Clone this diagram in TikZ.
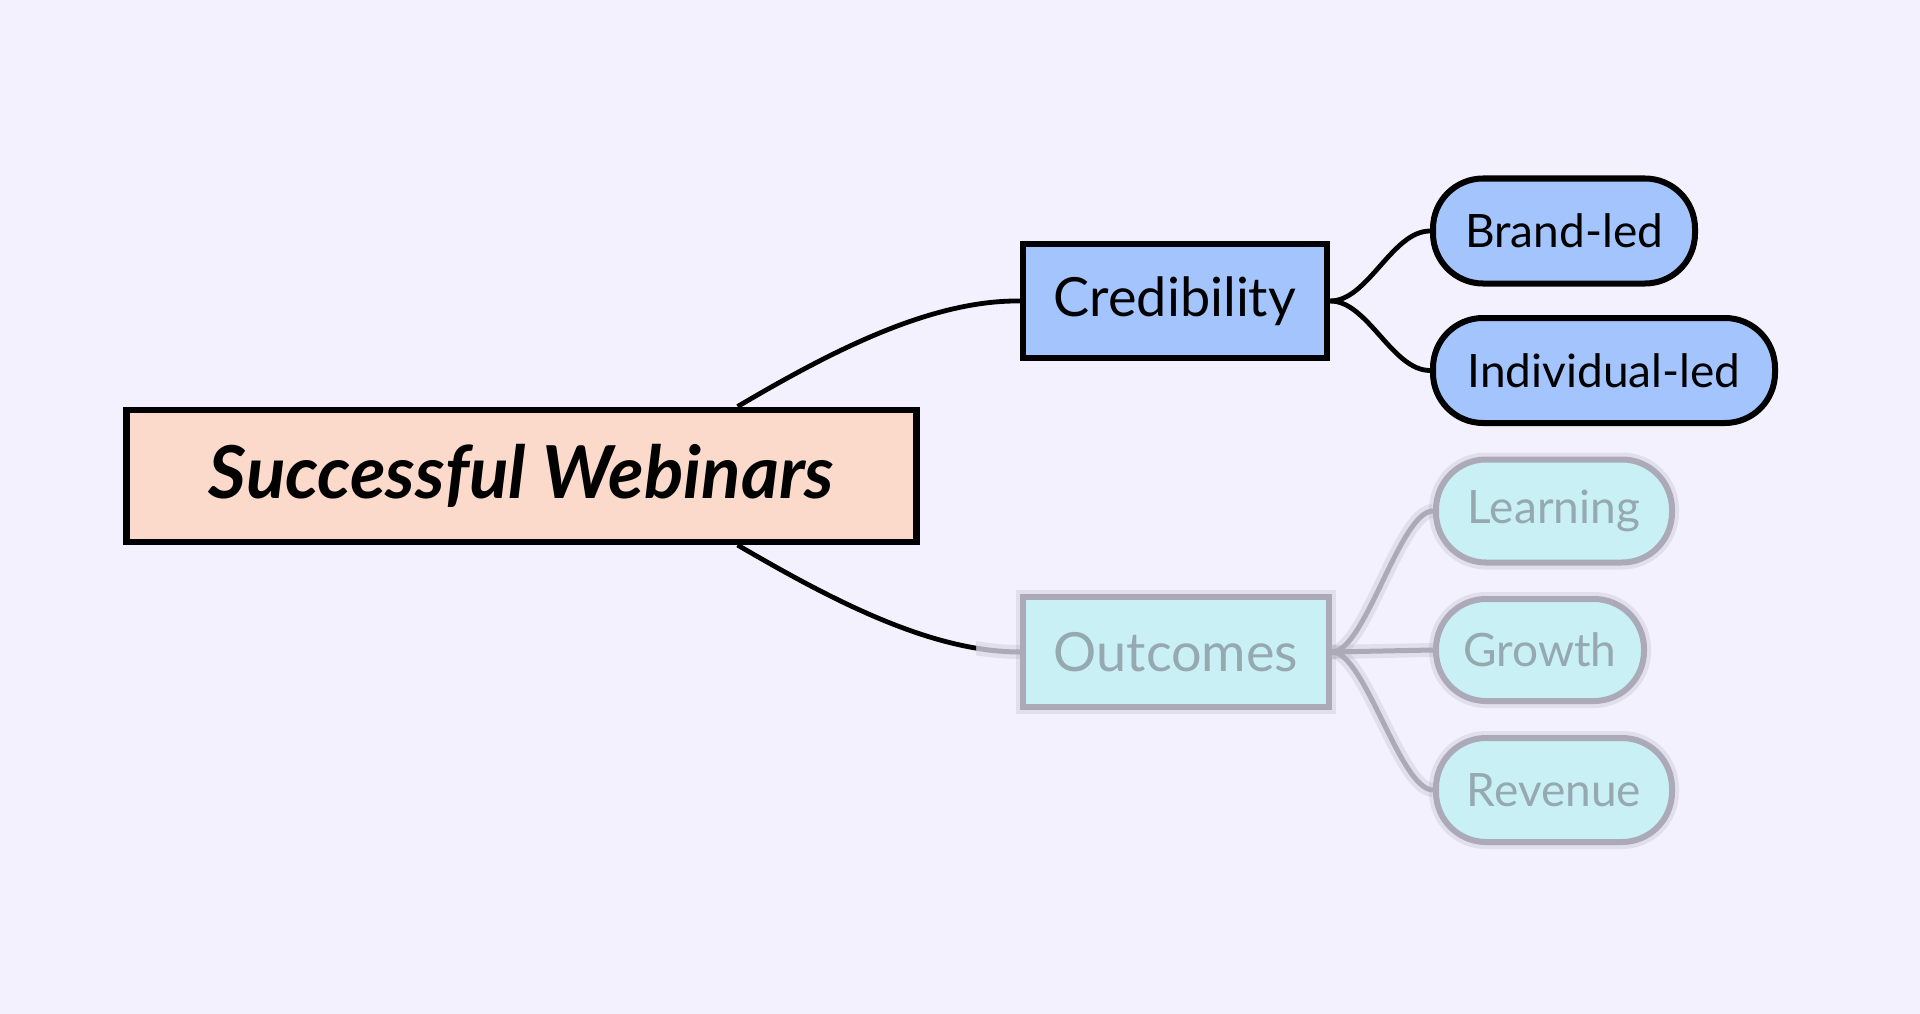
\documentclass[tikz,border=0pt]{standalone}
\usepackage{fontspec}
\setmainfont{Lato}
\definecolor{bgc}{RGB}{244,241,254}
\definecolor{peach}{RGB}{251,218,204}
\definecolor{blueb}{RGB}{163,196,253}
\definecolor{cyanb}{RGB}{200,240,245}
\definecolor{fadeline}{RGB}{172,170,184}
\definecolor{fadetext}{RGB}{150,168,176}
\tikzset{
  rootbox/.style={draw=black, line width=6.5pt, fill=peach, minimum width=790pt, minimum height=132pt, inner sep=0pt, font=\fontsize{73}{80}\selectfont\bfseries\itshape},
  subbox/.style={draw=black, line width=6.5pt, fill=blueb, inner sep=0pt, font=\fontsize{54}{60}\selectfont},
  leafbox/.style={draw=black, line width=6pt, fill=blueb, rounded corners=50pt, inner sep=0pt, font=\fontsize{46}{50}\selectfont},
  fadehalo/.style={preaction={draw=fadeline, line width=14pt, opacity=0.25}},
  fadebox/.style={draw=fadeline, line width=6pt, fill=cyanb, inner sep=0pt, text=fadetext, font=\fontsize{54}{60}\selectfont, fadehalo},
  fadeleaf/.style={draw=fadeline, line width=6pt, fill=cyanb, rounded corners=50pt, inner sep=0pt, text=fadetext, font=\fontsize{46}{50}\selectfont, fadehalo},
  conn/.style={draw=black, line width=4.8pt},
  fadeconn/.style={draw=fadeline, line width=5pt, fadehalo},
}
\begin{document}
\begin{tikzpicture}[x=1pt,y=-1pt]
\fill[bgc] (0,0) rectangle (1920,1014);
\useasboundingbox (0,0) rectangle (1920,1014);

% faded part (blurred in reference)
\node[fadebox, minimum width=306pt, minimum height=110pt] (out) at (1176,652) {Outcomes};
\node[fadeleaf, minimum width=236pt, minimum height=103pt] (learn) at (1554,511) {Learning};
\node[fadeleaf, minimum width=208pt, minimum height=102pt] (grow) at (1540,650) {Growth};
\node[fadeleaf, minimum width=236pt, minimum height=104pt] (rev) at (1554,790) {Revenue};
\draw[fadeconn] (out.east) .. controls (1365,652) and (1400,511) .. (learn.west);
\draw[fadeconn] (out.east) -- (grow.west);
\draw[fadeconn] (out.east) .. controls (1365,652) and (1400,790) .. (rev.west);

\node[rootbox] (root) at (521.6,475.8) {Successful Webinars};
\node[subbox, minimum width=304pt, minimum height=114pt] (cred) at (1175,301) {Credibility};
\node[leafbox, minimum width=262pt, minimum height=105pt] (brand) at (1564,231) {Brand-led};
\node[leafbox, minimum width=342pt, minimum height=105pt] (indiv) at (1604,370.5) {Individual-led};

\coordinate (rt) at ([xshift=216pt]root.north);
\coordinate (rb) at ([xshift=216pt]root.south);

\draw[conn] (rt) .. controls (830,352) and (930,300) .. (cred.west);

\begin{scope}
\clip (976,0) rectangle (1920,1014);
\draw[fadeconn] (rb) .. controls (830,599) and (930,652) .. (out.west);
\end{scope}
\begin{scope}
\clip (0,0) rectangle (976,1014);
\draw[conn] (rb) .. controls (830,599) and (930,652) .. (out.west);
\end{scope}

\draw[conn] (cred.east) .. controls (1368,301) and (1392,231) .. (brand.west);
\draw[conn] (cred.east) .. controls (1368,301) and (1392,370.5) .. (indiv.west);
\end{tikzpicture}
\end{document}
